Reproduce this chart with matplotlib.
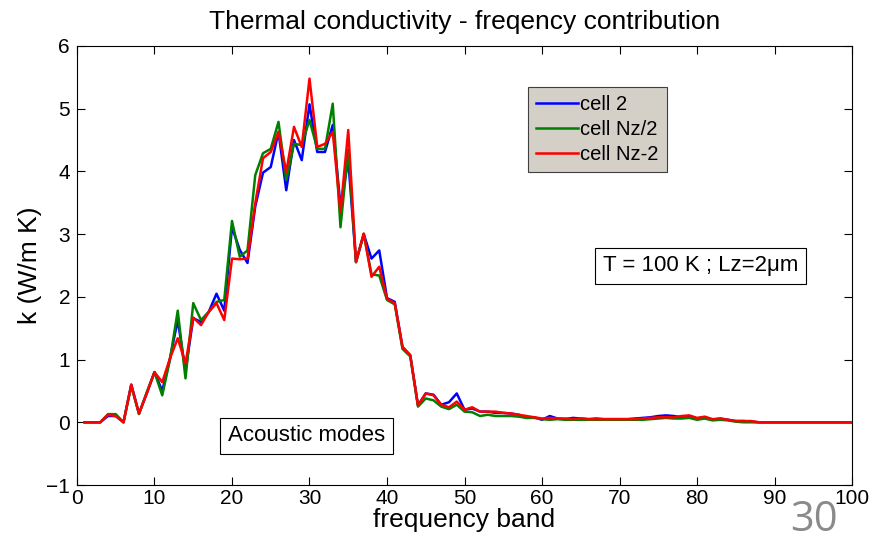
import matplotlib
matplotlib.use("Agg")
import matplotlib.pyplot as plt

plt.rcParams["font.family"] = ["Liberation Sans", "DejaVu Sans"]

# frequency band index 1..100
band = list(range(1, 101))

k_cell2 = [
    0, 0, 0, 0.10, 0.10, 0, 0.60, 0.14, 0.46, 0.80,
    0.50, 1.02, 1.63, 0.82, 1.66, 1.60, 1.76, 2.05, 1.78, 3.11,
    2.75, 2.54, 3.44, 3.98, 4.07, 4.63, 3.70, 4.50, 4.18, 5.07,
    4.31, 4.31, 4.74, 3.45, 4.18, 2.56, 3.00, 2.61, 2.74, 1.98,
    1.92, 1.20, 1.07, 0.27, 0.46, 0.44, 0.28, 0.32, 0.46, 0.20,
    0.22, 0.17, 0.17, 0.15, 0.15, 0.14, 0.12, 0.07, 0.08, 0.04,
    0.10, 0.06, 0.05, 0.07, 0.06, 0.05, 0.06, 0.05, 0.05, 0.05,
    0.05, 0.06, 0.07, 0.08, 0.10, 0.11, 0.10, 0.08, 0.10, 0.06,
    0.08, 0.04, 0.06, 0.04, 0.02, 0.02, 0.01, 0, 0, 0,
    0, 0, 0, 0, 0, 0, 0, 0, 0, 0,
]
k_cell_half = [
    0, 0, 0, 0.13, 0.13, 0, 0.58, 0.13, 0.48, 0.80,
    0.43, 1.00, 1.78, 0.70, 1.90, 1.63, 1.76, 1.92, 1.95, 3.21,
    2.64, 2.74, 3.94, 4.29, 4.36, 4.79, 3.86, 4.44, 4.42, 4.82,
    4.36, 4.36, 5.08, 3.11, 4.35, 2.55, 3.00, 2.36, 2.34, 1.95,
    1.88, 1.17, 1.05, 0.25, 0.38, 0.35, 0.25, 0.21, 0.28, 0.17,
    0.16, 0.10, 0.12, 0.10, 0.10, 0.10, 0.09, 0.07, 0.07, 0.05,
    0.04, 0.05, 0.04, 0.04, 0.04, 0.04, 0.04, 0.04, 0.04, 0.04,
    0.04, 0.04, 0.04, 0.05, 0.06, 0.07, 0.06, 0.06, 0.07, 0.04,
    0.06, 0.03, 0.04, 0.03, 0.01, 0, 0, 0, 0, 0,
    0, 0, 0, 0, 0, 0, 0, 0, 0, 0,
]
k_cell_end = [
    0, 0, 0, 0.12, 0.10, 0, 0.60, 0.14, 0.46, 0.80,
    0.64, 1.02, 1.34, 0.94, 1.67, 1.55, 1.76, 1.90, 1.63, 2.61,
    2.60, 2.61, 3.49, 4.21, 4.31, 4.63, 3.99, 4.71, 4.39, 5.48,
    4.39, 4.44, 4.63, 3.35, 4.66, 2.56, 3.01, 2.32, 2.48, 1.97,
    1.90, 1.20, 1.07, 0.27, 0.46, 0.43, 0.28, 0.24, 0.33, 0.20,
    0.24, 0.17, 0.17, 0.17, 0.15, 0.14, 0.12, 0.10, 0.08, 0.06,
    0.07, 0.06, 0.06, 0.05, 0.06, 0.05, 0.05, 0.05, 0.05, 0.05,
    0.05, 0.05, 0.06, 0.07, 0.08, 0.08, 0.08, 0.10, 0.11, 0.07,
    0.09, 0.05, 0.06, 0.04, 0.02, 0.02, 0.02, 0, 0, 0,
    0, 0, 0, 0, 0, 0, 0, 0, 0, 0,
]

series = [
    ("cell 2", k_cell2, "#0000ff"),
    ("cell Nz/2", k_cell_half, "#008000"),
    ("cell Nz-2", k_cell_end, "#ff0000"),
]

fig = plt.figure(figsize=(8.89, 5.41), dpi=100)
ax = fig.add_axes([0.0866, 0.1035, 0.8718, 0.8115])

for label, k, col in series:
    ax.plot(band, k, color=col, lw=1.8, label=label)

ax.set_xlim(0, 100)
ax.set_ylim(-1, 6)
ax.set_xticks(range(0, 101, 10))
ax.set_yticks(range(-1, 7))
ax.tick_params(direction="in", top=True, right=True, length=6, width=0.8,
               labelsize=15)
ax.tick_params(axis="x", pad=3)
ax.tick_params(axis="y", pad=5)
for s in ax.spines.values():
    s.set_linewidth(0.8)

ax.set_xlabel("frequency band", fontsize=19, labelpad=0)
ax.set_ylabel("k (W/m K)", fontsize=19, labelpad=3)
ax.set_title("Thermal conductivity - freqency contribution", fontsize=19, pad=12)

leg = ax.legend(loc="upper left", bbox_to_anchor=(0.582, 0.907), fontsize=14.5,
                frameon=True, fancybox=False, handlelength=2.1, handletextpad=0.1,
                borderpad=0.4, labelspacing=0.3, borderaxespad=0)
leg.get_frame().set_facecolor("#d4d0c8")
leg.get_frame().set_edgecolor("#404040")
leg.get_frame().set_alpha(1)
leg.get_frame().set_linewidth(0.8)

box = dict(boxstyle="square,pad=0.35", fc="white", ec="black", lw=0.8)
ax.text(0.679, 0.499, "T = 100 K ; Lz=2\u03bcm", transform=ax.transAxes,
        fontsize=16, va="center", ha="left", bbox=box)
ax.text(0.195, 0.112, "Acoustic modes", transform=ax.transAxes,
        fontsize=16, va="center", ha="left", bbox=box)

fig.text(0.889, 0.0, "30", fontsize=30, color="#8a8a8a", ha="left",
         va="bottom", family=["Open Sans", "DejaVu Sans"])

fig.savefig("out.png", dpi=100)
